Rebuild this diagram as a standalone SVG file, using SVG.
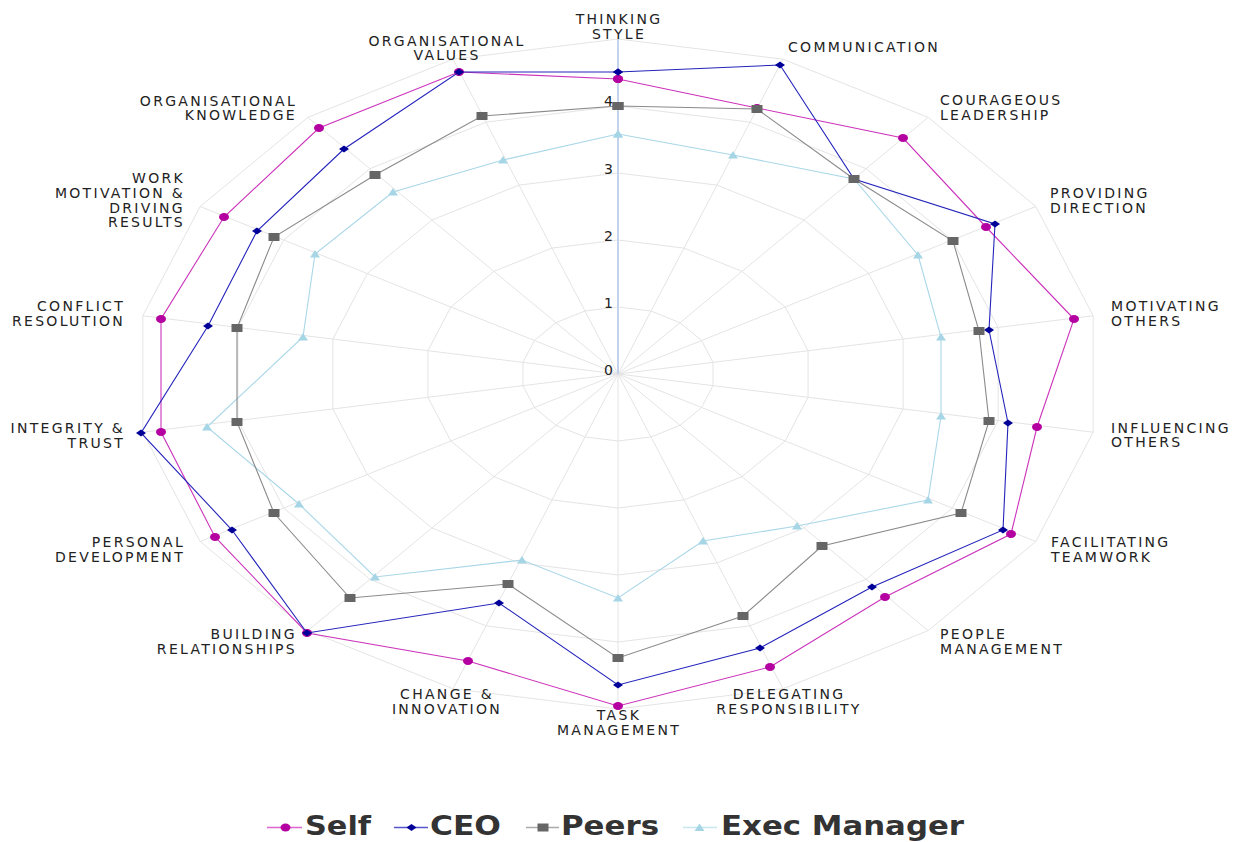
<svg xmlns="http://www.w3.org/2000/svg" xmlns:xlink="http://www.w3.org/1999/xlink" width="1235" height="842" viewBox="0 0 1235 842">
<style>
.grid{fill:none;stroke:#e4e4e4;stroke-width:1}
.lbl{font-family:"DejaVu Sans",Verdana,sans-serif;font-size:14px;letter-spacing:2.3px;fill:#222}
.tick{font-family:"DejaVu Sans",sans-serif;font-size:14px;fill:#222;text-anchor:end}
.leg{font-family:"DejaVu Sans",Verdana,sans-serif;font-size:26px;font-weight:bold;fill:#333}
.s-self{fill:none;stroke:#cc33bb;stroke-width:1.1;marker-start:url(#mkSelf);marker-mid:url(#mkSelf);marker-end:url(#mkSelf)}
.s-ceo{fill:none;stroke:#2424bb;stroke-width:1.1;marker-start:url(#mkCEO);marker-mid:url(#mkCEO);marker-end:url(#mkCEO)}
.s-peers{fill:none;stroke:#8a8a8a;stroke-width:1.1;marker-start:url(#mkPeers);marker-mid:url(#mkPeers);marker-end:url(#mkPeers)}
.s-exec{fill:none;stroke:#a9d7e8;stroke-width:1.1;marker-start:url(#mkExec);marker-mid:url(#mkExec);marker-end:url(#mkExec)}
.l-self{fill:none;stroke:#dd66d0;stroke-width:1.5;marker-mid:url(#mkSelf)}
.l-ceo{fill:none;stroke:#5555cc;stroke-width:1.5;marker-mid:url(#mkCEO)}
.l-peers{fill:none;stroke:#aaaaaa;stroke-width:1.5;marker-mid:url(#mkPeers)}
.l-exec{fill:none;stroke:#c8e6f0;stroke-width:1.5;marker-mid:url(#mkExec)}
</style>
<defs>
<polygon id="ring" vector-effect="non-scaling-stroke" points="0,-1 0.34202,-0.93969 0.64279,-0.76604 0.86603,-0.5 0.98481,-0.17365 0.98481,0.17365 0.86603,0.5 0.64279,0.76604 0.34202,0.93969 0,1 -0.34202,0.93969 -0.64279,0.76604 -0.86603,0.5 -0.98481,0.17365 -0.98481,-0.17365 -0.86603,-0.5 -0.64279,-0.76604 -0.34202,-0.93969"/>
<marker id="mkSelf" viewBox="-7 -7 14 14" markerWidth="14" markerHeight="14" refX="0" refY="0" markerUnits="userSpaceOnUse"><ellipse rx="5" ry="4" fill="#b400a0"/></marker>
<marker id="mkCEO" viewBox="-7 -7 14 14" markerWidth="14" markerHeight="14" refX="0" refY="0" markerUnits="userSpaceOnUse"><polygon points="-5,0 0,-3.5 5,0 0,3.5" fill="#000099"/></marker>
<marker id="mkPeers" viewBox="-7 -7 14 14" markerWidth="14" markerHeight="14" refX="0" refY="0" markerUnits="userSpaceOnUse"><rect x="-5.5" y="-4" width="11" height="8" fill="#666"/></marker>
<marker id="mkExec" viewBox="-7 -7 14 14" markerWidth="14" markerHeight="14" refX="0" refY="0" markerUnits="userSpaceOnUse"><polygon points="-5,3.5 0,-4 5,3.5" fill="#a6d6e6"/></marker>
</defs>
<rect width="1235" height="842" fill="#fff"/>
<g id="grid" class="grid">
<use href="#ring" transform="translate(618 374) scale(96.5 67)"/>
<use href="#ring" transform="translate(618 374) scale(193 134)"/>
<use href="#ring" transform="translate(618 374) scale(289.5 201)"/>
<use href="#ring" transform="translate(618 374) scale(386 268)"/>
<use href="#ring" transform="translate(618 374) scale(482.5 335)"/>
<path d="M618 374L783 59.2M618 374L928.1 117.4M618 374L1035.9 206.5M618 374L1093.2 315.8M618 374L1093.2 432.2M618 374L1035.9 541.5M618 374L928.1 630.6M618 374L783 688.8M618 374L618 709M618 374L453 688.8M618 374L307.9 630.6M618 374L200.1 541.5M618 374L142.8 432.2M618 374L142.8 315.8M618 374L200.1 206.5M618 374L307.9 117.4M618 374L453 59.2"/>
<line x1="618" y1="374" x2="618" y2="39" stroke="#c3d3ee" stroke-width="2"/>
</g>
<g id="ticks">
<text class="tick" x="613" y="375">0</text>
<text class="tick" x="613" y="308">1</text>
<text class="tick" x="613" y="241">2</text>
<text class="tick" x="613" y="174">3</text>
<text class="tick" x="613" y="106">4</text>
</g>
<g id="connectors">
<polygon id="exec" class="s-exec" points="618,134 733,155 854,179 918,255 941,337 941,416 928,500 797,526 703,541 618,598 522,560 375,577 299,504 207,427 303,337 315,254 393,192 503,160"/>
<polygon id="self" class="s-self" points="618,79 757,108 903,138 986,227 1074,319 1037,427 1011,534 885,597 770,667 618,706 468,661 307,633 215,537 161,432 161,319 224,217 319,128 459,72"/>
<polygon id="ceo" class="s-ceo" points="618,72 780,65 854,179 995,224 989,330 1008,423 1003,530 872,587 760,648 618,685 499,603 307,633 232,530 141,433 208,326 257,231 344,149 459,72"/>
<polygon id="peers" class="s-peers" points="618,106 757,109 854,179 953,241 979,331 989,421 961,513 822,546 743,616 618,658 508,584 350,598 274,513 237,422 237,328 274,237 375,175 482,116"/>
</g>
<g id="ax-thinking"><text class="lbl" x="619" y="24" text-anchor="middle">THINKING</text><text class="lbl" x="619" y="39" text-anchor="middle">STYLE</text></g>
<g id="ax-communication"><text class="lbl" x="788" y="52">COMMUNICATION</text></g>
<g id="ax-courageous"><text class="lbl" x="940" y="105">COURAGEOUS</text><text class="lbl" x="940" y="120">LEADERSHIP</text></g>
<g id="ax-providing"><text class="lbl" x="1050" y="198">PROVIDING</text><text class="lbl" x="1050" y="213">DIRECTION</text></g>
<g id="ax-motivating"><text class="lbl" x="1111" y="311">MOTIVATING</text><text class="lbl" x="1111" y="326">OTHERS</text></g>
<g id="ax-influencing"><text class="lbl" x="1111" y="433">INFLUENCING</text><text class="lbl" x="1111" y="447">OTHERS</text></g>
<g id="ax-facilitating"><text class="lbl" x="1051" y="547">FACILITATING</text><text class="lbl" x="1051" y="562">TEAMWORK</text></g>
<g id="ax-people"><text class="lbl" x="940" y="639">PEOPLE</text><text class="lbl" x="940" y="654">MANAGEMENT</text></g>
<g id="ax-delegating"><text class="lbl" x="789" y="699" text-anchor="middle">DELEGATING</text><text class="lbl" x="789" y="714" text-anchor="middle">RESPONSIBILITY</text></g>
<g id="ax-task"><text class="lbl" x="619" y="720" text-anchor="middle">TASK</text><text class="lbl" x="619" y="735" text-anchor="middle">MANAGEMENT</text></g>
<g id="ax-change"><text class="lbl" x="447" y="699" text-anchor="middle">CHANGE &amp;</text><text class="lbl" x="447" y="714" text-anchor="middle">INNOVATION</text></g>
<g id="ax-building"><text class="lbl" x="297" y="639" text-anchor="end">BUILDING</text><text class="lbl" x="297" y="654" text-anchor="end">RELATIONSHIPS</text></g>
<g id="ax-personal"><text class="lbl" x="185" y="547" text-anchor="end">PERSONAL</text><text class="lbl" x="185" y="562" text-anchor="end">DEVELOPMENT</text></g>
<g id="ax-integrity"><text class="lbl" x="125" y="433" text-anchor="end">INTEGRITY &amp;</text><text class="lbl" x="125" y="448" text-anchor="end">TRUST</text></g>
<g id="ax-conflict"><text class="lbl" x="125" y="311" text-anchor="end">CONFLICT</text><text class="lbl" x="125" y="326" text-anchor="end">RESOLUTION</text></g>
<g id="ax-work"><text class="lbl" x="185" y="183" text-anchor="end">WORK</text><text class="lbl" x="185" y="198" text-anchor="end">MOTIVATION &amp;</text><text class="lbl" x="185" y="213" text-anchor="end">DRIVING</text><text class="lbl" x="185" y="227" text-anchor="end">RESULTS</text></g>
<g id="ax-orgknow"><text class="lbl" x="297" y="106" text-anchor="end">ORGANISATIONAL</text><text class="lbl" x="297" y="120" text-anchor="end">KNOWLEDGE</text></g>
<g id="ax-orgvalues"><text class="lbl" x="447" y="46" text-anchor="middle">ORGANISATIONAL</text><text class="lbl" x="447" y="60" text-anchor="middle">VALUES</text></g>
<g id="legend">
<path d="M267 827.5H285.5H302" class="l-self"/><text class="leg" x="305" y="835" textLength="66" lengthAdjust="spacingAndGlyphs">Self</text>
<path d="M394 827.5H411.5H428" class="l-ceo"/><text class="leg" x="430" y="835" textLength="71" lengthAdjust="spacingAndGlyphs">CEO</text>
<path d="M526 827.5H543H559" class="l-peers"/><text class="leg" x="561" y="835" textLength="98" lengthAdjust="spacingAndGlyphs">Peers</text>
<path d="M683 827.5H699.5H717" class="l-exec"/><text class="leg" x="721" y="835" textLength="243" lengthAdjust="spacingAndGlyphs">Exec Manager</text>
</g>
</svg>
